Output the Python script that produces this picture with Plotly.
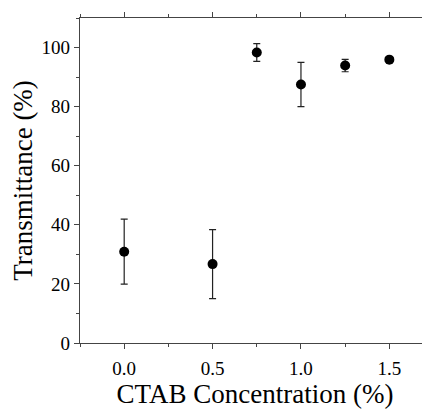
import plotly.graph_objects as go

ctab = [0.0, 0.5, 0.75, 1.0, 1.25, 1.5]
transmittance = [30.9, 26.7, 98.3, 87.5, 93.9, 95.9]
error = [11.0, 11.7, 3.0, 7.5, 2.1, 0.8]

fig = go.Figure()
fig.add_trace(go.Scatter(
    x=ctab, y=transmittance, mode="markers",
    marker=dict(size=10, color="black"),
    error_y=dict(type="data", array=error, visible=True, color="#222", thickness=1.2, width=3.5),
    showlegend=False,
))

font_family = "Liberation Serif"
fig.update_layout(
    width=430, height=409,
    margin=dict(l=72, r=8, t=10, b=74),
    plot_bgcolor="white", paper_bgcolor="white",
    font=dict(family=font_family, color="black"),
)
fig.update_xaxes(
    range=[-0.25, 1.73], tickvals=[0, 0.5, 1.0, 1.5], ticktext=["0.0", "0.5", "1.0", "1.5"],
    ticks="outside", ticklen=5, tickwidth=1, tickcolor="#444",
    minor=dict(ticks="outside", ticklen=3, dtick=0.25, tick0=0, tickcolor="#444"),
    showline=True, linecolor="#444", linewidth=1.3, mirror="ticks",
    showgrid=False, zeroline=False, automargin=False, ticklabelstandoff=3,
    tickfont=dict(size=19, family=font_family),
    title=dict(text="CTAB Concentration (%)", font=dict(size=27, family=font_family), standoff=4),
)
fig.update_yaxes(
    range=[0, 110], tickvals=[0, 20, 40, 60, 80, 100],
    ticks="outside", ticklen=5, tickwidth=1, tickcolor="#444",
    minor=dict(ticks="outside", ticklen=3, dtick=10, tick0=0, tickcolor="#444"),
    showline=True, linecolor="#444", linewidth=1.3,
    showgrid=False, zeroline=False, automargin=False,
    tickfont=dict(size=19, family=font_family),
    title=dict(text="Transmittance (%)", font=dict(size=27, family=font_family), standoff=2),
)
fig.write_html("out.html")
